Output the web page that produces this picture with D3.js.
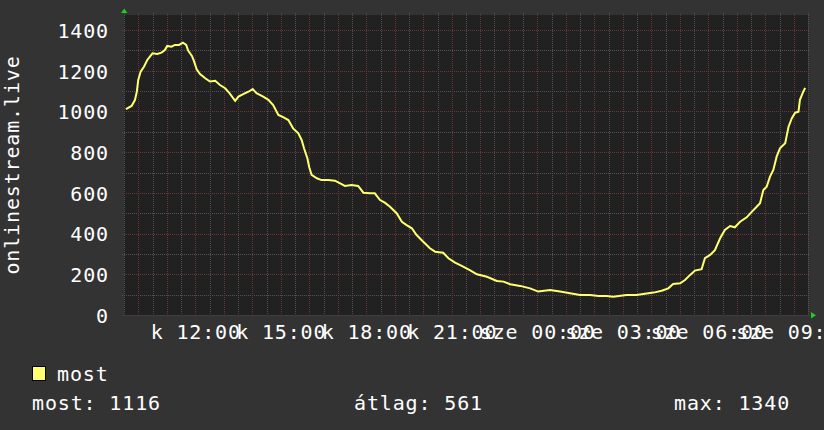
<!DOCTYPE html>
<meta charset="utf-8">
<style>
    body { margin: 0; background: #333333; }
    svg text {
        font-family: "DejaVu Sans Mono", monospace;
        font-size: 20px;
        letter-spacing: 0.85px;
        fill: #ffffff;
    }
</style>

<div class="chart"></div>

<script src="https://cdn.jsdelivr.net/npm/d3@7"></script>

<script>
    // minutes after k 09:30
    var minutes = [4,16,23,27,30,35,42,49,60,70,79,86,91,100,107,116,124,131,135,143,
        147,153,160,171,181,192,202,213,222,234,241,251,262,271,279,293,304,314,325,335,
        346,356,367,374,379,386,390,395,406,416,430,444,455,465,479,493,504,518,528,539,
        549,560,574,585,595,606,616,630,644,655,672,683,697,711,728,743,764,785,799,813,
        834,855,872,897,918,939,960,981,999,1016,1030,1058,1079,1093,1115,1132,1146,1156,1171,1181,
        1192,1202,1216,1223,1234,1244,1255,1265,1276,1286,1297,1311,1322,1332,1339,1346,1353,1360,1367,1374,
        1381,1392,1399,1406,1413,1420,1423,1430,1434];
    var most = [1012,1027,1056,1097,1155,1196,1220,1253,1286,1283,1289,1302,1322,1318,1327,1327,1338,1327,1299,1273,
        1250,1207,1184,1163,1147,1151,1130,1114,1090,1052,1073,1085,1097,1110,1090,1073,1057,1032,983,972,
        958,917,893,860,819,770,726,688,672,663,663,660,647,634,639,634,601,598,598,565,
        552,532,500,458,442,426,393,360,328,311,306,279,257,241,221,200,188,167,164,151,
        143,131,115,123,115,107,98,98,93,93,90,98,98,103,110,119,131,152,156,172,
        197,218,225,279,295,319,377,418,437,431,458,480,508,532,549,614,630,680,713,778,
        819,844,925,967,994,999,1057,1097,1116];

    var yMajor = [0,200,400,600,800,1000,1200,1400];
    var dayNames = ["v","h","k","sze","cs","p","szo"];
    var legendName = "most";
    var legendStats = ["most: 1116", "átlag: 561", "max: 1340"];
    var yTitle = "onlinestream.live";

    var W = 824, H = 430;
    var plot = {left: 124, right: 808, top: 15, bottom: 315};
    var lineColor = "#ffff70";

    var start = new Date(2023, 9, 10, 9, 30);   // a Tuesday ("k")
    var end = d3.timeHour.offset(start, 24);

    var data = minutes.map(function(m, i) {
        return {t: d3.timeMinute.offset(start, m), v: most[i]};
    });

    var x = d3.scaleTime().domain([start, end]).range([plot.left, plot.right]);
    var y = d3.scaleLinear().domain([0, 1474]).range([plot.bottom, plot.top]);

    var svg = d3.select('.chart').append('svg')
        .attr('width', W).attr('height', H);

    svg.append('rect').attr('width', W).attr('height', H).attr('fill', '#333333');
    svg.append('rect')
        .attr('x', plot.left).attr('y', plot.top)
        .attr('width', plot.right - plot.left).attr('height', plot.bottom - plot.top)
        .attr('fill', '#212121');

    var grid = svg.append('g').attr('shape-rendering', 'crispEdges')
        .attr('stroke-dasharray', '1,1').attr('fill', 'none');

    // minor grid
    grid.selectAll('.vmin').data(x.ticks(d3.timeMinute.every(30)))
        .enter().append('line')
        .attr('x1', function(d) { return Math.round(x(d)) + 0.5; })
        .attr('x2', function(d) { return Math.round(x(d)) + 0.5; })
        .attr('y1', plot.top - 2).attr('y2', plot.bottom + 2)
        .attr('stroke', '#525252');
    grid.selectAll('.hmin').data(d3.range(100, 1500, 200))
        .enter().append('line')
        .attr('x1', plot.left - 2).attr('x2', plot.right + 2)
        .attr('y1', function(d) { return Math.round(y(d)) + 0.5; })
        .attr('y2', function(d) { return Math.round(y(d)) + 0.5; })
        .attr('stroke', '#525252');

    // major grid
    grid.selectAll('.vmaj').data(x.ticks(d3.timeHour.every(1)))
        .enter().append('line')
        .attr('x1', function(d) { return Math.round(x(d)) + 0.5; })
        .attr('x2', function(d) { return Math.round(x(d)) + 0.5; })
        .attr('y1', plot.top - 2).attr('y2', plot.bottom + 2)
        .attr('stroke', '#6c3636');
    grid.selectAll('.hmaj').data(yMajor.slice(1))
        .enter().append('line')
        .attr('x1', plot.left - 2).attr('x2', plot.right + 2)
        .attr('y1', function(d) { return Math.round(y(d)) + 0.5; })
        .attr('y2', function(d) { return Math.round(y(d)) + 0.5; })
        .attr('stroke', '#6c3636');

    // axis line
    svg.append('line')
        .attr('x1', plot.left - 2).attr('x2', plot.right + 2)
        .attr('y1', plot.bottom + 0.5).attr('y2', plot.bottom + 0.5)
        .attr('stroke', '#3f3f3f').attr('shape-rendering', 'crispEdges');

    // data line
    var line = d3.line()
        .x(function(d) { return x(d.t); })
        .y(function(d) { return y(d.v); });
    svg.append('path').datum(data)
        .attr('d', line)
        .attr('fill', 'none')
        .attr('stroke', lineColor)
        .attr('stroke-width', 2)
        .attr('stroke-linejoin', 'miter');

    // y axis labels
    var yAxis = d3.axisLeft(y).tickValues(yMajor).tickSize(0).tickPadding(0)
        .tickFormat(function(d) { return d; });
    var gy = svg.append('g').attr('transform', 'translate(109,0)').call(yAxis);
    gy.select('.domain').remove();
    gy.selectAll('text').attr('font-family', null).attr('font-size', null)
        .attr('dy', '7.3').attr('fill', '#ffffff');

    // x axis labels
    var fmt = d3.timeFormat('%H:%M');
    var xAxis = d3.axisBottom(x).ticks(d3.timeHour.every(3)).tickSize(0).tickPadding(0)
        .tickFormat(function(d) { return dayNames[d.getDay()] + ' ' + fmt(d); });
    var gx = svg.append('g').attr('transform', 'translate(0,' + plot.bottom + ')').call(xAxis);
    gx.select('.domain').remove();
    gx.selectAll('text').attr('font-family', null).attr('font-size', null)
        .attr('y', 24).attr('dy', null).attr('fill', '#ffffff');

    // arrows
    svg.append('path')
        .attr('d', 'M' + (plot.left - 3) + ',13 L' + (plot.left + 3.5) + ',13 L' + (plot.left + 0.25) + ',8.5 Z')
        .attr('fill', '#22cc22');
    svg.append('path')
        .attr('d', 'M' + (plot.right + 3) + ',' + (plot.bottom - 3) + ' L' + (plot.right + 3) + ',' + (plot.bottom + 3.5) + ' L' + (plot.right + 8) + ',' + (plot.bottom + 0.25) + ' Z')
        .attr('fill', '#22cc22');

    // y title
    svg.append('text')
        .attr('transform', 'translate(19,' + (plot.top + plot.bottom) / 2 + ') rotate(-90)')
        .attr('text-anchor', 'middle')
        .text(yTitle);

    // legend
    svg.append('rect')
        .attr('x', 32.5).attr('y', 366.5).attr('width', 13).attr('height', 14)
        .attr('fill', lineColor).attr('stroke', '#000000');
    svg.append('text').attr('x', 57).attr('y', 381).text(legendName);
    var statX = [32, 354, 674];
    svg.selectAll('.stat').data(legendStats).enter().append('text')
        .attr('x', function(d, i) { return statX[i]; })
        .attr('y', 410)
        .text(function(d) { return d; });
</script>
